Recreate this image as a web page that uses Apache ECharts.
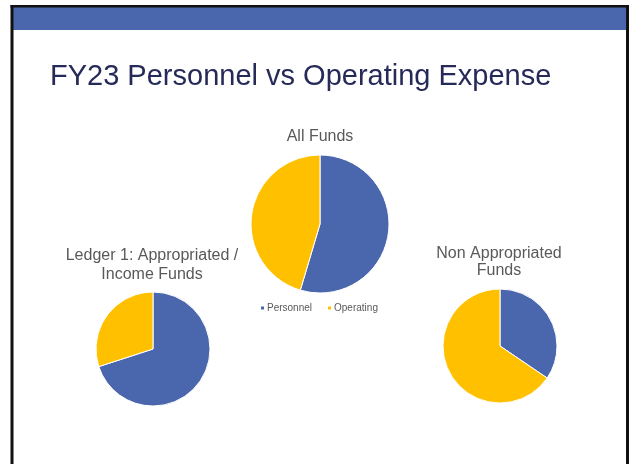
<!DOCTYPE html>
<html>
<head>
<meta charset="utf-8">
<script src="https://cdn.jsdelivr.net/npm/echarts@6/dist/echarts.min.js"></script>
<style>
html,body{margin:0;padding:0;background:#fff;}
#c{width:630px;height:464px;}
</style>
</head>
<body>
<div id="c"></div>
<script>
var categories = ['Personnel', 'Operating'];
var allFunds = [54.6, 45.4];
var ledger1 = [70, 30];
var nonAppropriated = [34.5, 65.5];
var colors = ['#4A66AC', '#FFC000'];

function toData(vals) {
  return categories.map(function (c, i) { return { name: c, value: vals[i] }; });
}

var chart = echarts.init(document.getElementById('c'), null, { renderer: 'canvas' });
var font = '"Liberation Sans", Arial, sans-serif';
var pieBase = {
  type: 'pie',
  startAngle: 90,
  clockwise: true,
  label: { show: false },
  labelLine: { show: false },
  emphasis: { disabled: true },
  itemStyle: { borderColor: '#fff', borderWidth: 1 },
  animation: false
};
var subStyle = { fontFamily: font, fontSize: 16, fontWeight: 'normal', color: '#595959' };

chart.setOption({
  color: colors,
  animation: false,
  textStyle: { fontFamily: font },
  title: [
    { text: 'All Funds', left: 315, top: 124, textAlign: 'center', textStyle: subStyle },
    { text: 'Ledger 1: Appropriated /\nIncome Funds', left: 147, top: 241.5, textAlign: 'center',
      textStyle: Object.assign({}, subStyle, { lineHeight: 18.7 }) },
    { text: 'Non Appropriated\nFunds', left: 494, top: 239.5, textAlign: 'center',
      textStyle: Object.assign({}, subStyle, { lineHeight: 17.5 }) }
  ],
  legend: {
    data: categories,
    left: 254, top: 298,
    itemWidth: 5, itemHeight: 5, itemGap: 14,
    icon: 'rect',
    textStyle: { fontFamily: font, fontSize: 10, color: '#595959', padding: [0, 0, 0, -3] },
    selectedMode: false
  },
  graphic: [
    { type: 'rect', shape: { x: 13, y: 7, width: 613, height: 23 }, style: { fill: '#4A66AC' }, silent: true },
    { type: 'rect', shape: { x: 10.5, y: 5, width: 3, height: 460 }, style: { fill: '#111' }, silent: true },
    { type: 'rect', shape: { x: 10.5, y: 5, width: 618.5, height: 2.5 }, style: { fill: '#111' }, silent: true },
    { type: 'rect', shape: { x: 626, y: 5, width: 3, height: 460 }, style: { fill: '#111' }, silent: true },
    { type: 'text', x: 50, y: 76.7, style: { text: 'FY23 Personnel vs Operating Expense',
      fontFamily: font, fontSize: 29, fill: '#262A58', verticalAlign: 'middle', align: 'left' }, silent: true }
  ],
  series: [
    Object.assign({}, pieBase, { name: 'All Funds', center: [320, 224], radius: 69, data: toData(allFunds) }),
    Object.assign({}, pieBase, { name: 'Ledger 1', center: [153, 349], radius: 57, data: toData(ledger1) }),
    Object.assign({}, pieBase, { name: 'Non Appropriated', center: [500, 346], radius: 57, data: toData(nonAppropriated) })
  ]
});
</script>
</body>
</html>
